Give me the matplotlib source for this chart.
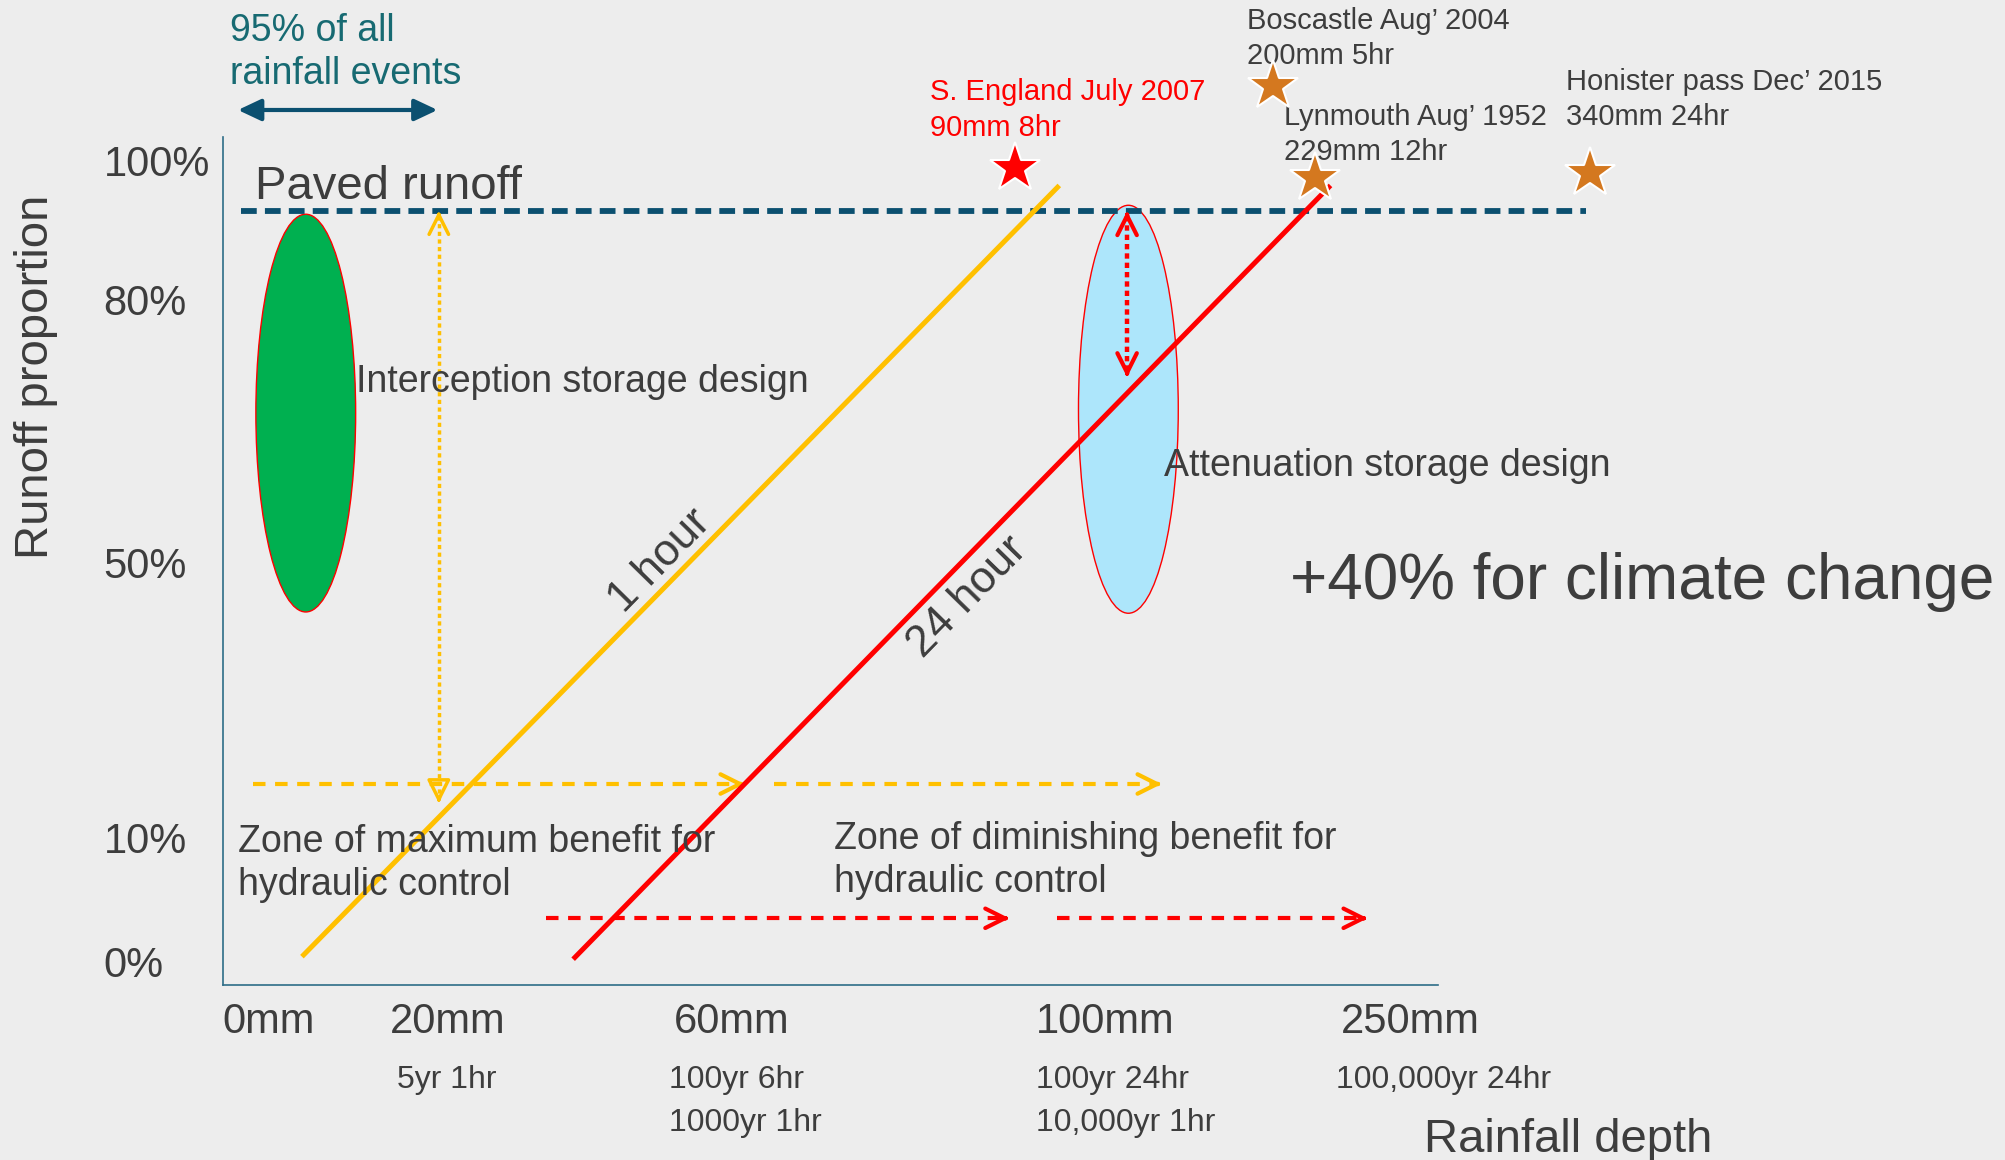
import numpy as np
import matplotlib
matplotlib.use('Agg')
import matplotlib.pyplot as plt
from matplotlib.patches import Ellipse

plt.rcParams['font.family'] = ['Liberation Sans', 'DejaVu Sans']

# Layout units: x to the right, y downwards (axes box spans 174..1124 x 107..770)
bg = '#ededed'
text_col = '#3d3d3d'
navy = '#0b5070'
yellow = '#ffc000'
red = '#ff0000'
orange = '#d4781f'

# Runoff proportion labels
y_tick_labels = ['100%', '80%', '50%', '10%', '0%']
y_tick_pos = [129, 238, 443, 658, 755]

# Rainfall depth labels and return periods
x_tick_labels = ['0mm', '20mm', '60mm', '100mm', '250mm']
x_tick_pos = [174, 305, 527, 810, 1048]
x_sub_labels = ['5yr 1hr', '100yr 6hr\n1000yr 1hr', '100yr 24hr\n10,000yr 1hr', '100,000yr 24hr']
x_sub_pos = [310, 523, 810, 1044]

# Storm duration lines
durations = ['1 hour', '24 hour']
dur_colors = [yellow, red]
dur_x0 = [236, 448]
dur_y0 = [748, 750]
dur_x1 = [828, 1040]
dur_y1 = [145, 145]
dur_label_x = [516, 756]
dur_label_y = [439, 467]

# Paved runoff level
paved_y = 165
paved_x = [188, 1240]

# Storage design zones (ellipses)
zone_names = ['Interception storage design', 'Attenuation storage design']
zone_cx = [239, 882]
zone_cy = [323, 320]
zone_w = [78, 78]
zone_h = [311, 319]
zone_fill = ['#00b050', '#ade6fb']
zone_label_x = [278, 910]
zone_label_y = [299, 364]

# Benefit zone arrows
yellow_arrows = [(198, 582), (605, 908)]
yellow_arrow_y = 613
red_arrows = [(427, 789), (826, 1069)]
red_arrow_y = 718
benefit_labels = ['Zone of maximum benefit for\nhydraulic control',
                  'Zone of diminishing benefit for\nhydraulic control']
benefit_x = [186, 652]
benefit_y = [675, 673]

# Vertical storage arrows (x, top, bottom)
yellow_vert = (343, 165, 628)
red_vert = (881, 165, 295)

# Historic storm events
events = ['S. England July 2007\n90mm 8hr', 'Boscastle Aug\u2019 2004\n200mm 5hr',
          'Lynmouth Aug\u2019 1952\n229mm 12hr', 'Honister pass Dec\u2019 2015\n340mm 24hr']
event_x = [793, 995, 1028, 1243]
event_y = [131, 67, 139, 135]
event_label_x = [727, 975, 1004, 1224]
event_label_y = [86, 30, 105, 78]
event_colors = [red, orange, orange, orange]
event_text_colors = [red, text_col, text_col, text_col]


def head(ax, x, y, dx, dy, color, style='->', fc=None, lw=3):
    """draw a solid arrow head with its tip at (x, y) pointing along (dx, dy)"""
    props = dict(arrowstyle=style + ',head_length=0.7,head_width=0.35',
                 color=color, lw=lw, mutation_scale=20, shrinkA=0, shrinkB=0)
    if fc is not None:
        props['fc'] = fc
    ax.annotate('', xy=(x, y), xytext=(x - dx * 4, y - dy * 4),
                arrowprops=props, annotation_clip=False)


fig = plt.figure(figsize=(20.06, 11.6), dpi=100, facecolor=bg)
ax = fig.add_axes([174 / 1568, 1 - 770 / 907, 950 / 1568, 663 / 907])
ax.set_facecolor(bg)
ax.set_xlim(174, 1124)
ax.set_ylim(770, 107)
ax.set_xticks([])
ax.set_yticks([])
for side in ['top', 'right']:
    ax.spines[side].set_visible(False)
for side in ['left', 'bottom']:
    ax.spines[side].set_color('#2e6d88')
    ax.spines[side].set_linewidth(1.2)

# axis labels
for lab, y in zip(y_tick_labels, y_tick_pos):
    ax.text(81, y, lab, fontsize=30, color=text_col, ha='left', va='center')
for lab, x in zip(x_tick_labels, x_tick_pos):
    ax.text(x, 799, lab, fontsize=30, color=text_col, ha='left', va='center')
for lab, x in zip(x_sub_labels, x_sub_pos):
    ax.text(x, 833, lab, fontsize=23, color=text_col, ha='left', va='top', linespacing=1.55)
ax.text(28, 295, 'Runoff proportion', fontsize=34, color=text_col, rotation=90,
        ha='center', va='center')
ax.text(1113, 891, 'Rainfall depth', fontsize=34, color=text_col, ha='left', va='center')

# 95% of all rainfall events
ax.text(180, 41, '95% of all\nrainfall events', fontsize=27, color='#176a72',
        ha='left', va='center', linespacing=1.25)
ax.annotate('', xy=(342, 86), xytext=(186, 86), annotation_clip=False,
            arrowprops=dict(arrowstyle='<|-|>,head_length=0.7,head_width=0.33',
                            color=navy, lw=3, mutation_scale=20, shrinkA=0, shrinkB=0))

# storage ellipses
for i in range(len(zone_names)):
    ax.add_patch(Ellipse((zone_cx[i], zone_cy[i]), zone_w[i], zone_h[i],
                         facecolor=zone_fill[i], edgecolor=red, lw=1, zorder=2))
    ax.text(zone_label_x[i], zone_label_y[i], zone_names[i], fontsize=27,
            color=text_col, ha='left', va='center', zorder=6)

# paved runoff line
ax.plot(paved_x, [paved_y, paved_y], color=navy, lw=4.2, dashes=(2.7, 1.4),
        clip_on=False, zorder=3, solid_capstyle='butt')
ax.text(199, 146, 'Paved runoff', fontsize=34, color=text_col, ha='left', va='center')

# benefit zone arrows
for x0, x1 in yellow_arrows:
    ax.plot([x0, x1 - 2], [yellow_arrow_y, yellow_arrow_y], color=yellow, lw=3,
            dashes=(3, 2.3), zorder=3)
    head(ax, x1, yellow_arrow_y, 1, 0, yellow)
for x0, x1 in red_arrows:
    ax.plot([x0, x1 - 2], [red_arrow_y, red_arrow_y], color=red, lw=3,
            dashes=(3, 2.3), zorder=3)
    head(ax, x1, red_arrow_y, 1, 0, red)
for lab, x, y in zip(benefit_labels, benefit_x, benefit_y):
    ax.text(x, y, lab, fontsize=27, color=text_col, ha='left', va='center',
            linespacing=1.25, zorder=6)

# vertical storage arrows
vx, vt, vb = yellow_vert
ax.plot([vx, vx], [vt + 4, vb - 4], color=yellow, lw=2.5, dashes=(1.2, 1.0), zorder=3)
head(ax, vx, vt, 0, -1, yellow, lw=2.5)
head(ax, vx, vb, 0, 1, yellow, style='-|>', fc='none', lw=2.5)
vx, vt, vb = red_vert
ax.plot([vx, vx], [vt + 4, vb - 4], color=red, lw=3.2, dashes=(1.2, 0.9), zorder=3)
head(ax, vx, vt, 0, -1, red, lw=3)
head(ax, vx, vb, 0, 1, red, lw=3)

# storm duration lines
for i in range(len(durations)):
    ax.plot([dur_x0[i], dur_x1[i]], [dur_y0[i], dur_y1[i]], color=dur_colors[i],
            lw=3.6, solid_capstyle='butt', zorder=4)
    ang = np.degrees(np.arctan2(dur_y0[i] - dur_y1[i], dur_x1[i] - dur_x0[i]))
    ax.text(dur_label_x[i], dur_label_y[i], durations[i], fontsize=32, color=text_col,
            rotation=ang, rotation_mode='anchor', ha='center', va='center')

# +40% note
ax.text(1008, 455, '+40% for climate change', fontsize=46, color=text_col,
        ha='left', va='center')

# historic storm events
for i in range(len(events)):
    ax.plot(event_x[i], event_y[i], marker='*', ms=38, color=event_colors[i],
            mec='white', mew=1.5, clip_on=False, zorder=7)
    ax.text(event_label_x[i], event_label_y[i], events[i], fontsize=21,
            color=event_text_colors[i], ha='left', va='center', linespacing=1.32)

plt.savefig('out.png', dpi=100, facecolor=bg)
